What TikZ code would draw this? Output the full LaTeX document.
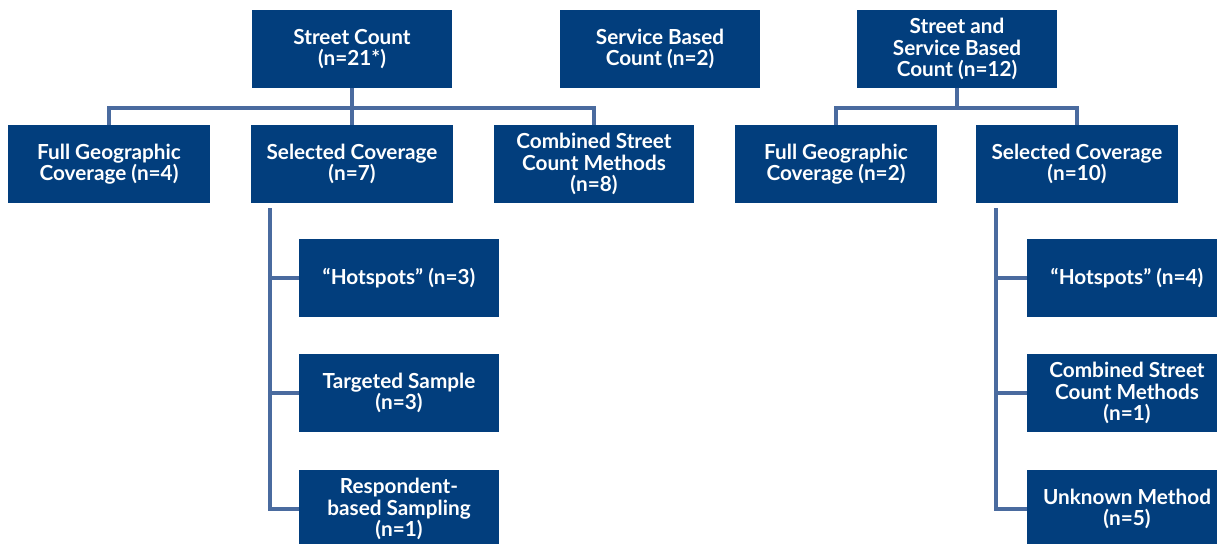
\documentclass[tikz,border=0pt]{standalone}
\usepackage{fontspec}
\setmainfont{Lato}
\usetikzlibrary{calc}
\definecolor{boxblue}{HTML}{023E7D}
\definecolor{lineblue}{HTML}{4A6B9F}
\tikzset{
	box/.style={fill=boxblue, text=white, align=center, inner sep=0pt,
		minimum width=4cm, minimum height=1.56cm,
		font=\bfseries\fontsize{11.8}{12.2}\selectfont},
	wide/.style={box, minimum width=4.04cm},
	link/.style={draw=lineblue, line width=2.3pt}
}
\begin{document}
\begin{tikzpicture}[x=0.02cm, y=-0.02cm]
	\useasboundingbox (0, 0) rectangle (1217, 544);
	\node[box] (sc) at (352, 49) {Street Count\\(n=21*)};
	\node[box] (sb) at (660, 49) {Service Based\\Count (n=2)};
	\node[box] (ssb) at (957, 49) {Street and\\Service Based\\Count (n=12)};
	\node[wide] (fg1) at (109, 164) {Full Geographic\\Coverage (n=4)};
	\node[wide] (sel1) at (352, 164) {Selected Coverage\\(n=7)};
	\node[box] (comb1) at (594, 164) {Combined Street\\Count Methods\\(n=8)};
	\node[wide] (fg2) at (836, 164) {Full Geographic\\Coverage (n=2)};
	\node[wide] (sel2) at (1077, 164) {Selected Coverage\\(n=10)};
	\node[box] (hot1) at (399, 278) {``Hotspots'' (n=3)};
	\node[box] (tar1) at (399, 393) {Targeted Sample\\(n=3)};
	\node[box] (resp1) at (399, 509) {Respondent-\\based Sampling\\(n=1)};
	\node[box] (hot2) at (1127, 278) {``Hotspots'' (n=4)};
	\node[box] (comb2) at (1127, 393) {Combined Street\\Count Methods\\(n=1)};
	\node[box] (unk2) at (1127, 509) {Unknown Method\\(n=5)};
	\draw[link] (sc.south) -- (sel1.north);
	\draw[link] (fg1.north) -- ++(0, -17) -| (comb1.north);
	\draw[link] (ssb.south) -- ++(0, 20);
	\draw[link] (fg2.north) -- ++(0, -17) -| (sel2.north);
	\draw[link] ($(sel1.south west)+(19, 5)$) |- (resp1.west);
	\draw[link] (hot1.west) -- ++(-29, 0);
	\draw[link] (tar1.west) -- ++(-29, 0);
	\draw[link] ($(sel2.south west)+(20, 5)$) |- (unk2.west);
	\draw[link] (hot2.west) -- ++(-30, 0);
	\draw[link] (comb2.west) -- ++(-30, 0);
\end{tikzpicture}
\end{document}
